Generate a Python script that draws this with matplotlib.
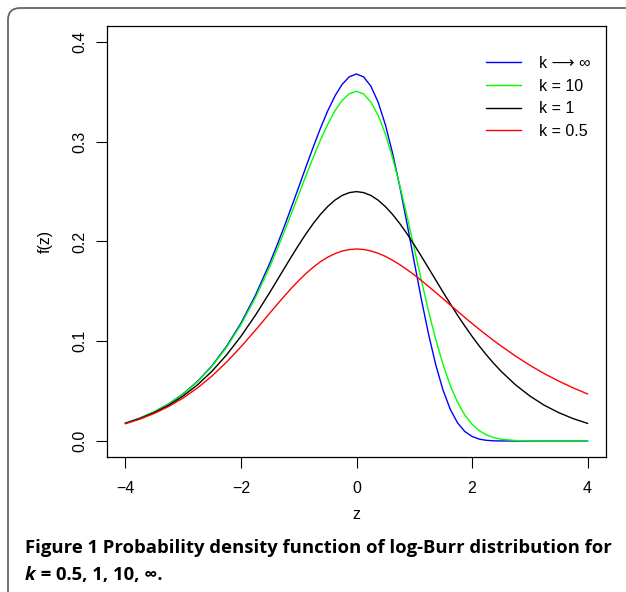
import matplotlib
matplotlib.use("Agg")
import matplotlib.pyplot as plt
from matplotlib.patches import FancyBboxPatch

plt.rcParams['font.family'] = ['Liberation Sans', 'DejaVu Sans']

# values
z = [-4.0, -3.75, -3.5, -3.25, -3.0, -2.75, -2.5, -2.25, -2.0, -1.75, -1.5,
     -1.375, -1.25, -1.125, -1.0, -0.875, -0.75, -0.625, -0.5, -0.375, -0.25,
     -0.125, 0.0, 0.125, 0.25, 0.375, 0.5, 0.625, 0.75, 0.875, 1.0, 1.125,
     1.25, 1.375, 1.5, 1.625, 1.75, 1.875, 2.0, 2.125, 2.25, 2.375, 2.5,
     2.75, 3.0, 3.25, 3.5, 3.75, 4.0]

f_inf = [0.0180, 0.0230, 0.0293, 0.0373, 0.0474, 0.0600, 0.0756, 0.0949,
         0.1182, 0.1461, 0.1785,
         0.1964, 0.2151, 0.2347, 0.2546, 0.2748, 0.2945, 0.3134, 0.3307,
         0.3457, 0.3574, 0.3651, 0.3679, 0.3649, 0.3556, 0.3396, 0.3170,
         0.2884, 0.2549, 0.2179, 0.1794, 0.1415, 0.1064, 0.0758, 0.0507,
         0.0316, 0.0182, 0.0096, 0.0046, 0.0019, 0.0007, 0.0002, 0.0001,
         0.0, 0.0, 0.0, 0.0, 0.0, 0.0]

f_k10 = [0.0180, 0.0229, 0.0292, 0.0372, 0.0471, 0.0596, 0.0750, 0.0939,
         0.1167, 0.1438, 0.1750,
         0.1921, 0.2100, 0.2285, 0.2472, 0.2660, 0.2843, 0.3016, 0.3173,
         0.3308, 0.3413, 0.3481, 0.3505, 0.3479, 0.3396, 0.3265, 0.3077,
         0.2839, 0.2560, 0.2253, 0.1930, 0.1606, 0.1296, 0.1012, 0.0764,
         0.0554, 0.0388, 0.0261, 0.0169, 0.0104, 0.0062, 0.0035, 0.0019,
         0.0005, 0.0001, 0.0, 0.0, 0.0, 0.0]

f_k1 = [0.0177, 0.0225, 0.0285, 0.0359, 0.0452, 0.0565, 0.0701, 0.0863,
        0.1050, 0.1261, 0.1491,
        0.1611, 0.1731, 0.1850, 0.1966, 0.2077, 0.2179, 0.2271, 0.2350,
        0.2414, 0.2461, 0.2490, 0.2500, 0.2490, 0.2461, 0.2414, 0.2350,
        0.2271, 0.2179, 0.2077, 0.1966, 0.1850, 0.1731, 0.1611, 0.1491,
        0.1375, 0.1261, 0.1153, 0.1050, 0.0953, 0.0863, 0.0779, 0.0701,
        0.0565, 0.0452, 0.0359, 0.0285, 0.0225, 0.0177]

f_k05 = [0.0174, 0.0220, 0.0277, 0.0347, 0.0432, 0.0534, 0.0653, 0.0791,
         0.0945, 0.1111, 0.1283,
         0.1369, 0.1452, 0.1533, 0.1609, 0.1679, 0.1742, 0.1797, 0.1842,
         0.1878, 0.1904, 0.1919, 0.1925, 0.1920, 0.1905, 0.1882, 0.1851,
         0.1812, 0.1768, 0.1718, 0.1665, 0.1608, 0.1548, 0.1487, 0.1425,
         0.1363, 0.1301, 0.1239, 0.1179, 0.1120, 0.1063, 0.1007, 0.0954,
         0.0853, 0.0760, 0.0676, 0.0601, 0.0533, 0.0472]

series = [(f_inf, '#0000ff', 'k \u27f6 \u221e'),
          (f_k10, '#00ff00', 'k = 10'),
          (f_k1, '#000000', 'k = 1'),
          (f_k05, '#ff0000', 'k = 0.5')]

x_ticks = [-4, -2, 0, 2, 4]
y_ticks = [0.0, 0.1, 0.2, 0.3, 0.4]
y_labels = ['0.0', '0.1', '0.2', '0.3', '0.4']

W, H = 626, 592
fig = plt.figure(figsize=(W / 100, H / 100), dpi=100)

# outer rounded frame, cut by the right and bottom edges
frame = FancyBboxPatch((8 / W, -0.1), 1.2, 1.1 - 8 / H,
                       boxstyle="round,pad=0,rounding_size=0.02",
                       transform=fig.transFigure, fill=False,
                       edgecolor='#666666', linewidth=1.3)
fig.patches.append(frame)

ax = fig.add_axes([107 / W, 1 - 457 / H, 499 / W, 431 / H])
for vals, col, lab in series:
    ax.plot(z, vals, color=col, linewidth=1.0, label=lab)

ax.set_xlim(-4.32, 4.32)
ax.set_ylim(-0.016, 0.416)
ax.set_xticks(x_ticks)
ax.set_xticklabels([str(t).replace('-', '\u2212') for t in x_ticks])
ax.set_yticks(y_ticks)
ax.set_yticklabels(y_labels)
ax.tick_params(direction='out', length=8, width=0.8, labelsize=11.5, pad=9)
ax.tick_params(axis='y', labelrotation=90, pad=6)
for lab in ax.get_yticklabels():
    lab.set_va('center')
for sp in ax.spines.values():
    sp.set_linewidth(0.9)
ax.set_xlabel('z', fontsize=11.5, labelpad=8)
ax.set_ylabel('f(z)', fontsize=11.5, labelpad=14)

ax.legend(loc='upper left', bbox_to_anchor=(486 / W, 1 - 56 / H),
          bbox_transform=fig.transFigure, frameon=False, fontsize=11.5,
          handlelength=2.2, handletextpad=1.1, labelspacing=0.48,
          borderpad=0, borderaxespad=0)

# caption
cap_font = ['Open Sans', 'DejaVu Sans']
cap_size = 13.3
t1 = fig.text(25 / W, 1 - 553 / H, 'Figure 1', family=cap_font,
              weight='bold', fontsize=cap_size, va='baseline')
ax.annotate(' Probability density function of log-Burr distribution for',
            xy=(1, 0), xycoords=t1, va='bottom', ha='left',
            family=cap_font, weight='bold', fontsize=cap_size,
            annotation_clip=False)
t2 = fig.text(25 / W, 1 - 580 / H, 'k', family=cap_font, weight='bold',
              style='italic', fontsize=cap_size, va='baseline')
ax.annotate(' = 0.5, 1, 10, \u221e.', xy=(1, 0), xycoords=t2,
            va='bottom', ha='left', family=cap_font, weight='bold',
            fontsize=cap_size, annotation_clip=False)

fig.savefig('out.png', dpi=100)
